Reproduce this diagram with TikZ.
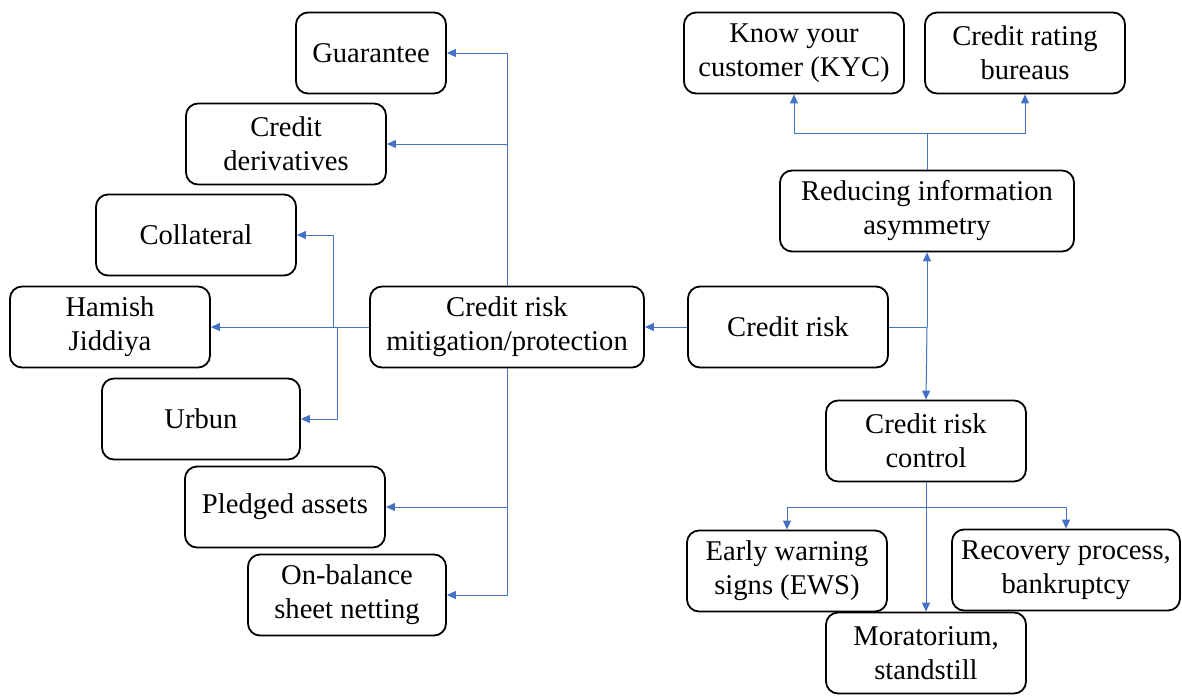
\documentclass[tikz,border=0pt]{standalone}
\usepackage{fontspec}
\setmainfont{Liberation Serif}
\usetikzlibrary{arrows.meta}
\definecolor{linkblue}{RGB}{68,114,196}
\tikzset{
box/.style={
	rectangle,
	rounded corners=6pt,
	minimum width=100pt,
	minimum height=40.5pt,
	text centered,
	align=center,
	draw=black,
	line width=0.9pt,
	fill=white,
	inner sep=2pt
},
arrow/.style={
	-{Triangle[length=4.5pt,width=4pt]},
	draw=linkblue,
	line width=0.5pt
}
}
\begin{document}
\begin{tikzpicture}[x=0.5pt, y=-0.5pt, font=\fontsize{14.3pt}{17pt}\selectfont]
\useasboundingbox (0,0) rectangle (1182,696);
% ===== Mitigation side (left) =====
\node (guar)    [box, minimum width=75pt]   at (371, 53)  {Guarantee};
\node (deriv)   [box]                       at (286, 144) {Credit\\derivatives};
\node (coll)    [box]                       at (196, 235) {Collateral};
\node (hamish)  [box]                       at (110, 327) {Hamish\\Jiddiya};
\node (mitig)   [box, minimum width=137pt]  at (507, 327) {Credit risk\\mitigation/protection};
\node (urbun)   [box, minimum width=99pt]   at (201, 419) {Urbun};
\node (pledged) [box]                       at (285, 507) {Pledged assets};
\node (netting) [box, minimum width=99pt]   at (347, 595) {On-balance\\sheet netting};
% ===== Centre and right side =====
\node (risk)    [box]                       at (788, 327) {Credit risk};
\node (kyc)     [box, minimum width=110pt]  at (794, 53)  {Know your\\customer (KYC)};
\node (bureau)  [box]                       at (1025, 53) {Credit rating\\bureaus};
\node (asym)    [box, minimum width=147pt]  at (927, 211) {Reducing information\\asymmetry};
\node (control) [box]                       at (926, 441) {Credit risk\\control};
\node (ews)     [box]                       at (787, 571) {Early warning\\signs (EWS)};
\node (recov)   [box, minimum width=114pt]  at (1066, 570){Recovery process,\\bankruptcy};
\node (morat)   [box]                       at (926, 653) {Moratorium,\\standstill};
% ===== Branch points =====
\coordinate (lsplitA) at (333, 327);
\coordinate (lsplitB) at (337, 327);
\coordinate (rsplit)  at (927, 327);
\coordinate (tsplit)  at (927, 133);
\coordinate (bsplit)  at (926, 507);

% credit risk -> mitigation, and its fan-out
\draw [arrow] (risk.west)  -- (mitig.east);
\draw [arrow] (mitig.north) |- (guar.east);
\draw [arrow] (mitig.north) |- (deriv.east);
\draw [arrow] (mitig.south) |- (pledged.east);
\draw [arrow] (mitig.south) |- (netting.east);
\draw [arrow] (mitig.west)  -- (hamish.east);
\draw [arrow] (lsplitA) |- (coll.east);
\draw [arrow] (lsplitB) |- (urbun.east);

% credit risk -> information asymmetry and control
\draw [linkblue, line width=0.5pt] (risk.east) -- (rsplit);
\draw [arrow] (rsplit) -- (asym.south);
\draw [arrow] (rsplit) -- (control.north);

% information asymmetry -> KYC / bureaus
\draw [linkblue, line width=0.5pt] (asym.north) -- (tsplit);
\draw [arrow] (tsplit) -| (kyc.south);
\draw [arrow] (tsplit) -| (bureau.south);

% control -> EWS / moratorium / recovery
\draw [linkblue, line width=0.5pt] (control.south) -- (bsplit);
\draw [arrow] (bsplit) -| (ews.north);
\draw [arrow] (bsplit) -| (recov.north);
\draw [arrow] (control.south) -- (morat.north);

\end{tikzpicture}
\end{document}
